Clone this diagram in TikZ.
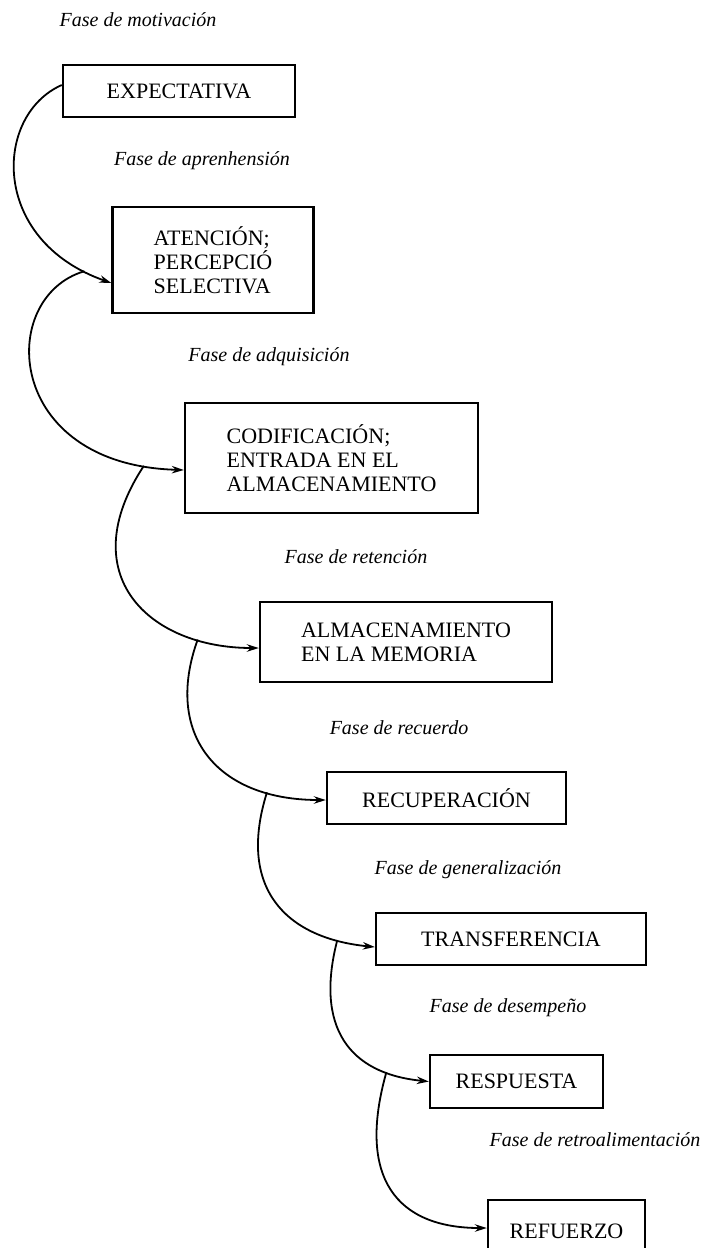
\documentclass[tikz,border=0pt]{standalone}
\usepackage{fontspec}
\setmainfont{Liberation Serif}
\usetikzlibrary{arrows.meta}

\tikzset{
  stage/.style={draw, line width=2.4pt, rectangle, inner sep=0pt,
    font=\fontsize{22}{24}\selectfont, align=left},
  phase/.style={inner sep=0pt, font=\fontsize{20}{22}\selectfont\itshape},
  conn/.style={line width=1.8pt, -{Stealth[length=12pt,width=7.5pt]}}
}

\begin{document}
\begin{tikzpicture}[x=1pt, y=1pt]
  \useasboundingbox (0,0) rectangle (702,-1248);
  \clip (0,0) rectangle (702,-1248);

  % stages of the learning act
  \node[stage, minimum width=232pt, minimum height=52pt]  (e1) at (179,-91)     {EXPECTATIVA};
  \node[stage, minimum width=201pt, minimum height=106pt] (e2) at (213,-260)    {ATENCIÓN;\\PERCEPCIÓ\\SELECTIVA};
  \node[stage, minimum width=293pt, minimum height=110pt] (e3) at (331.5,-458)  {CODIFICACIÓN;\\ENTRADA EN EL\\ALMACENAMIENTO};
  \node[stage, minimum width=292pt, minimum height=80pt]  (e4) at (406,-642)    {ALMACENAMIENTO\\EN LA MEMORIA};
  \node[stage, minimum width=239pt, minimum height=52pt]  (e5) at (446.5,-798)  {RECUPERACIÓN};
  \node[stage, minimum width=270pt, minimum height=52pt]  (e6) at (511,-939)    {TRANSFERENCIA};
  \node[stage, minimum width=173pt, minimum height=53pt]  (e7) at (516.5,-1081.5) {RESPUESTA};
  \node[stage, minimum width=157pt, minimum height=62pt]  (e8) at (566.5,-1231) {REFUERZO};

  % phase names
  \node[phase] (f1) at (138,-20)   {Fase de motivación};
  \node[phase] (f2) at (202,-161)  {Fase de aprenhensión};
  \node[phase] (f3) at (269,-357)  {Fase de adquisición};
  \node[phase] (f4) at (356,-557)  {Fase de retención};
  \node[phase] (f5) at (399,-728)  {Fase de recuerdo};
  \node[phase] (f6) at (468,-870)  {Fase de generalización};
  \node[phase] (f7) at (508,-1008) {Fase de desempeño};
  \node[phase] (f8) at (595,-1140) {Fase de retroalimentación};

  % curved connectors, each branching off the previous one
  \draw[conn] ([yshift=6pt]e1.west) .. controls +(-68,-30) and +(-122,43) .. ([yshift=-23pt]e2.west) coordinate[pos=0.92] (s2);
  \draw[conn] (s2) .. controls +(-88,-26) and +(-180,5) .. ([yshift=-12pt]e3.west) coordinate[pos=0.92] (s3);
  \draw[conn] (s3) .. controls +(-72,-109) and +(-110,0) .. ([yshift=-6pt]e4.west) coordinate[pos=0.8] (s4);
  \draw[conn] (s4) .. controls +(-34,-94) and +(-110,0) .. ([yshift=-2pt]e5.west) coordinate[pos=0.8] (s5);
  \draw[conn] (s5) .. controls +(-30,-95) and +(-90,9) .. ([yshift=-8pt]e6.west) coordinate[pos=0.85] (s6);
  \draw[conn] (s6) .. controls +(-22.5,-87) and +(-80,8) .. (e7.west) coordinate[pos=0.8] (s7);
  \draw[conn] (s7) .. controls +(-30,-106) and +(-90,0) .. ([yshift=3pt]e8.west);
\end{tikzpicture}
\end{document}
